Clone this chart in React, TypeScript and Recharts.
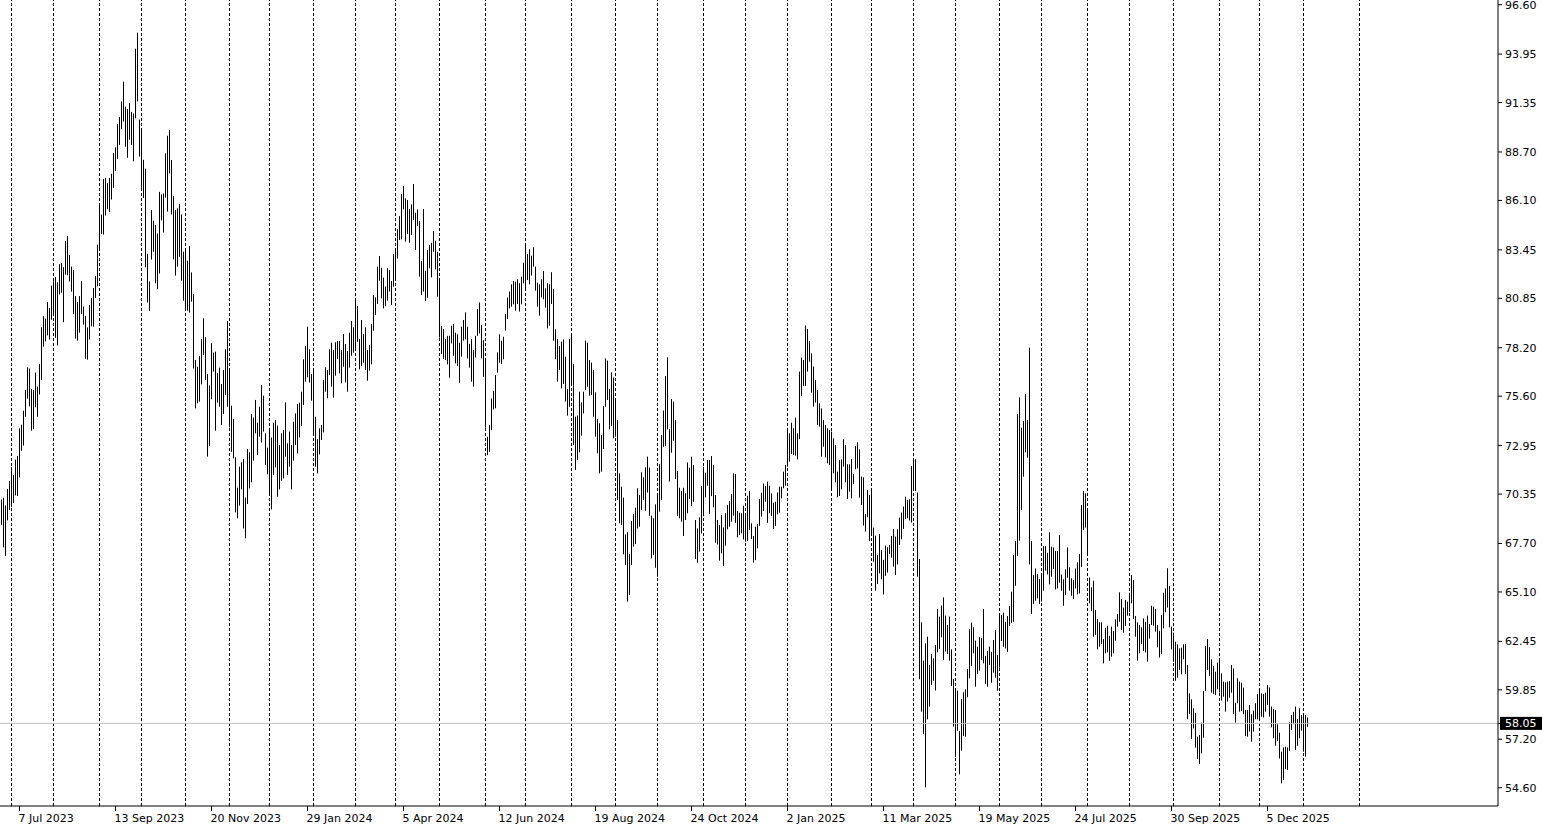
import React from 'react';
import { ComposedChart, Bar, XAxis, YAxis, ReferenceLine } from 'recharts';

// Daily bar highs (from ~26 Jun 2023 to ~2 Jan 2026)
const highs = [
  70.06, 70.15, 69.74, 70.62, 71.05, 71.79, 71.37, 72.20, 72.39, 73.88,
  74.07, 74.82, 75.93, 77.15, 77.09, 75.99, 75.93, 76.87, 76.12, 77.33,
  79.29, 79.89, 79.76, 80.65, 80.32, 81.53, 81.77, 81.99, 81.71, 82.68,
  82.74, 82.52, 83.93, 84.19, 83.17, 82.55, 82.37, 80.97, 80.65, 80.97,
  81.77, 80.41, 79.91, 79.29, 80.50, 80.87, 81.40, 82.05, 83.73, 85.96,
  85.35, 87.25, 87.31, 87.03, 87.31, 87.53, 88.65, 88.95, 90.20, 90.57,
  91.41, 92.47, 91.13, 91.00, 91.32, 90.85, 90.76, 94.24, 95.10, 90.44,
  89.97, 88.28, 87.81, 83.24, 81.75, 85.59, 85.01, 84.79, 84.32, 86.56,
  86.43, 86.47,
  88.63, 89.57, 89.88, 88.27, 86.34, 85.59, 85.68, 85.91, 85.35, 83.35,
  83.44, 82.87, 83.66, 82.24, 81.08, 77.54, 77.18, 77.76, 78.67, 79.78,
  78.76, 76.79, 76.17, 78.44, 77.94, 77.99, 76.83, 77.13, 76.25, 77.00,
  78.11, 79.63, 76.97, 75.09, 74.38, 72.32, 70.69, 71.82, 72.05, 72.23,
  70.16, 72.77, 72.59, 74.65, 74.45, 75.40, 74.18, 75.04, 76.20, 75.63,
  73.61, 72.84, 73.88, 73.38, 74.18, 74.32, 74.02, 72.98, 73.61, 73.79,
  75.27, 73.07, 73.70, 72.98, 74.23, 74.68, 75.18, 75.25, 75.84, 77.58,
  78.29, 79.33, 78.11, 76.79, 76.97, 74.50, 73.30, 73.88, 74.05, 76.47,
  77.15, 77.00, 78.11,
  78.47, 78.08, 78.49, 78.56, 78.56, 78.08, 78.94, 78.40, 78.02, 79.01,
  79.63, 79.29, 80.85, 80.43, 78.67, 79.69, 78.94, 79.29, 78.08, 78.35,
  79.47, 81.03, 80.90, 82.55, 83.12, 82.49, 81.96, 81.48, 82.46, 82.37,
  81.78, 83.23, 83.49, 84.55, 85.26, 86.44, 86.87, 86.21, 86.12, 85.64,
  85.89, 86.98, 85.44, 85.62, 85.00, 82.85, 85.64, 82.33, 83.44, 83.71,
  83.83, 84.46, 83.94, 83.35, 81.78, 79.36, 79.20, 78.67, 78.84, 78.84,
  79.38, 79.47, 79.01, 78.92, 78.47, 79.33, 79.69, 80.10, 79.33, 78.40,
  78.67, 78.08, 78.84, 80.27, 80.63, 79.42, 78.61, 77.59, 73.43, 74.05,
  75.48, 75.89,
  76.74, 77.95, 78.92, 78.58, 78.79, 80.01, 80.89, 81.21, 81.60, 81.78,
  81.74, 81.87, 81.66, 82.01, 82.76, 83.71, 83.23, 83.48, 83.14, 83.59,
  82.55, 81.69, 81.60, 81.87, 82.32, 81.39, 81.66, 81.60, 82.25, 81.35,
  79.19, 78.67, 78.29, 78.53, 78.65, 77.72, 75.99, 78.67, 78.88, 77.33,
  74.50, 74.56, 75.84, 75.27, 75.84, 78.58, 78.47, 77.54, 77.40, 77.01,
  75.81, 74.38, 74.15, 73.52, 75.08, 77.63, 77.51, 75.99, 76.88, 76.60,
  75.40, 74.32, 71.46, 70.75, 70.16, 68.19, 68.30, 67.14, 68.91, 69.28,
  69.62, 70.66, 70.30, 71.52, 71.25, 71.79, 72.36, 71.77, 69.19, 69.05,
  69.80, 70.39, 71.95,
  73.52, 74.83, 76.68, 77.69, 73.84, 75.45, 75.31, 74.32, 71.59, 70.69,
  70.51, 70.69, 70.39, 72.05, 71.77, 72.36, 71.91, 68.96, 68.51, 69.10,
  70.78, 71.82, 71.50, 72.18, 72.18, 72.39, 71.91, 70.30, 68.96, 68.69,
  69.23, 68.56, 69.32, 69.76, 69.98, 70.35, 71.46, 71.43, 69.44, 69.35,
  69.32, 69.73, 69.23, 70.26, 70.51, 68.78, 68.10, 68.60, 68.74, 70.09,
  70.42, 70.92, 70.78, 71.02, 70.80, 70.39, 69.89, 69.94, 70.44, 70.75,
  70.75, 71.55, 71.91, 73.73, 73.61, 74.18, 73.88, 74.45, 73.61, 76.92,
  77.67, 77.54, 79.39, 79.21, 78.56, 77.90, 77.19, 76.47, 75.93, 75.22,
  74.95, 74.32,
  74.06, 73.88, 73.79, 73.70, 73.34, 72.98, 71.55, 72.18, 72.21, 73.29,
  72.98, 71.95, 71.95, 72.23, 71.43, 72.93, 73.13, 72.75, 71.29, 71.25,
  69.28, 70.57, 70.30, 70.57, 68.55, 68.12, 67.08, 68.21, 67.35, 66.82,
  67.59, 67.50, 67.62, 68.10, 68.48, 68.07, 68.46, 69.09, 69.36, 69.68,
  70.21, 70.04, 70.07, 71.86, 72.15, 72.22, 70.43, 66.87, 63.47, 61.42,
  62.35, 62.70, 61.18, 61.77, 61.54, 62.26, 64.19, 63.78, 64.37, 64.81,
  63.83, 63.33, 63.78, 62.02, 60.43, 59.90, 59.81, 57.64, 59.36, 59.72,
  59.88, 60.97, 63.10, 63.46, 63.21, 62.49, 62.17, 62.67, 62.62, 64.19,
  61.67, 61.94, 62.17,
  61.89, 62.52, 63.06, 61.72, 63.86, 63.86, 63.99, 63.50, 63.81, 64.34,
  65.11, 67.08, 67.83, 74.64, 75.54, 73.91, 74.27, 75.72, 74.32, 78.20,
  67.83, 66.01, 66.36, 66.06, 65.79, 66.01, 67.56, 67.56, 67.20, 68.30,
  67.53, 67.49, 67.31, 67.29, 68.15, 66.04, 65.78, 66.31, 67.49, 66.42,
  65.83, 65.74, 66.36, 66.69, 67.13, 69.76, 70.51, 70.39, 69.58, 65.88,
  65.35, 65.70, 64.13, 63.65, 63.47, 63.47, 62.57, 63.18, 63.29, 62.75,
  63.24, 63.00, 63.63, 63.91, 65.08, 64.72, 64.26, 64.67, 64.58, 65.06,
  66.01, 65.74, 63.81, 63.47, 63.33, 63.20, 63.68, 63.50, 63.83, 63.38,
  64.36, 64.31,
  64.18, 63.33, 63.02, 63.86, 65.06, 65.29, 66.37, 65.42, 63.24, 62.92,
  62.43, 62.29, 62.08, 62.11, 62.29, 62.31, 61.18, 59.66, 59.34, 58.86,
  58.62, 57.34, 57.43, 58.09, 59.79, 62.20, 62.58, 62.13, 61.49, 61.13,
  60.82, 61.31, 61.50, 60.73, 60.29, 60.25, 60.29, 60.32, 61.18, 61.00,
  59.16, 60.47, 60.29, 60.23, 59.97, 58.77, 58.77, 59.04, 58.54, 58.73,
  59.13, 59.63, 59.93, 59.66, 59.63, 59.70, 60.11, 59.98, 58.95, 58.82,
  58.77, 58.00, 57.55, 56.53, 56.76, 56.80, 56.76, 58.11, 58.50, 58.67,
  58.95, 58.28, 58.86, 58.50, 58.59, 58.50, 58.37,
];

// Daily bar lows
const lows = [
  68.70, 67.49, 67.04, 68.94, 69.50, 69.65, 69.87, 70.28, 70.25, 71.24,
  72.67, 72.95, 74.50, 75.47, 75.06, 73.75, 73.83, 75.00, 74.50, 75.69,
  76.46, 78.26, 78.54, 78.86, 78.64, 79.70, 80.04, 78.73, 78.32, 81.06,
  81.15, 79.57, 82.12, 82.09, 81.75, 81.21, 80.00, 78.69, 78.58, 79.01,
  80.00, 79.44, 77.61, 77.56, 78.64, 79.35, 79.33, 80.87, 81.49, 83.48,
  84.29, 84.27, 85.29, 85.63, 85.48, 86.15, 86.78, 87.68, 88.33, 89.08,
  89.92, 90.33, 88.98, 88.39, 89.36, 89.08, 88.20, 90.51, 91.41, 88.46,
  86.78, 86.23, 82.52, 80.63, 80.18, 82.93, 83.35, 81.66, 81.34, 82.18,
  85.03, 84.38,
  86.25, 85.50, 87.55, 85.35, 82.94, 82.07, 82.55, 83.08, 81.80, 80.72,
  80.28, 80.19, 80.08, 80.67, 77.09, 74.95, 75.22, 75.31, 76.24, 77.81,
  76.47, 72.36, 72.93, 75.43, 76.92, 73.75, 75.25, 75.04, 74.05, 74.64,
  75.66, 75.04, 73.93, 72.62, 72.27, 69.37, 69.05, 69.73, 70.60, 68.51,
  67.98, 69.82, 70.66, 70.98, 72.14, 73.61, 72.45, 73.43, 73.12, 73.70,
  71.91, 71.41, 70.25, 69.53, 71.37, 71.78, 70.21, 70.60, 71.07, 71.19,
  72.36, 71.37, 71.82, 70.60, 72.14, 72.98, 72.53, 73.39, 74.00, 75.13,
  76.38, 76.61, 76.33, 75.36, 73.61, 71.82, 71.46, 72.48, 73.25, 73.66,
  75.84, 75.49, 76.74,
  76.11, 75.52, 76.70, 77.59, 76.83, 76.29, 77.18, 76.34, 75.84, 77.13,
  77.77, 77.93, 78.02, 78.52, 77.04, 77.22, 77.40, 77.00, 76.43, 76.97,
  77.31, 79.11, 79.95, 80.55, 81.80, 80.85, 80.31, 80.43, 80.72, 81.21,
  80.49, 81.48, 81.83, 82.99, 83.98, 84.01, 85.62, 83.89, 84.30, 83.83,
  84.24, 85.05, 83.44, 84.73, 82.01, 81.03, 81.21, 80.72, 80.88, 82.46,
  81.98, 83.35, 82.40, 80.94, 78.74, 77.86, 77.59, 77.54, 77.31, 76.59,
  78.43, 77.77, 77.36, 77.23, 76.32, 77.72, 78.58, 78.65, 77.63, 77.13,
  76.38, 76.11, 77.68, 78.84, 78.97, 77.63, 76.64, 73.91, 72.44, 72.62,
  73.78, 74.89,
  74.95, 76.86, 77.40, 77.33, 77.58, 79.12, 79.74, 80.31, 80.40, 80.53,
  80.19, 80.55, 80.14, 80.53, 81.66, 81.33, 81.83, 81.60, 82.07, 82.55,
  81.26, 80.40, 79.92, 80.90, 80.80, 80.35, 79.24, 79.38, 80.55, 78.58,
  77.58, 76.38, 77.01, 76.02, 76.26, 75.31, 74.56, 75.04, 76.17, 72.98,
  71.64, 72.18, 72.59, 73.48, 74.68, 75.93, 76.11, 75.63, 75.66, 74.50,
  73.43, 72.54, 71.46, 71.55, 72.77, 75.04, 75.40, 73.82, 74.00, 73.34,
  73.43, 70.03, 68.78, 68.69, 67.12, 66.55, 64.58, 64.94, 66.55, 67.53,
  67.67, 68.51, 68.60, 69.50, 70.03, 69.46, 70.43, 69.19, 66.90, 67.08,
  66.40, 65.92, 69.41,
  70.03, 72.89, 72.93, 73.82, 71.02, 72.57, 73.21, 71.16, 69.17, 69.05,
  68.87, 68.10, 68.96, 69.32, 70.09, 69.71, 69.94, 66.87, 66.67, 67.26,
  68.24, 69.17, 70.17, 70.80, 69.28, 70.24, 69.64, 67.74, 67.65, 66.78,
  67.17, 66.49, 67.58, 68.46, 68.60, 68.87, 69.19, 68.81, 68.03, 68.15,
  68.24, 67.92, 67.80, 67.83, 68.42, 67.94, 66.67, 66.81, 67.44, 68.65,
  69.14, 69.44, 69.94, 68.81, 69.32, 69.17, 68.48, 68.64, 69.26, 69.35,
  70.12, 70.66, 70.80, 71.82, 72.09, 72.50, 72.45, 72.41, 72.21, 73.30,
  75.61, 76.15, 76.15, 76.92, 77.45, 75.79, 75.04, 75.26, 74.06, 73.97,
  72.36, 72.89,
  72.32, 72.00, 71.91, 70.66, 71.46, 70.98, 70.18, 70.25, 70.60, 71.82,
  70.98, 70.09, 70.48, 70.12, 70.89, 71.68, 71.73, 70.16, 69.76, 68.66,
  68.34, 69.10, 67.83, 68.25, 66.72, 65.17, 65.53, 66.10, 65.78, 64.97,
  65.96, 66.14, 67.14, 66.94, 66.46, 66.01, 66.58, 67.62, 67.93, 68.48,
  69.02, 69.05, 68.93, 68.82, 70.54, 70.52, 65.92, 60.42, 58.68, 57.48,
  54.62, 58.27, 58.95, 60.11, 60.34, 59.81, 61.86, 62.04, 62.67, 61.45,
  61.90, 61.77, 61.42, 60.06, 57.88, 56.23, 57.66, 55.32, 56.59, 57.38,
  57.34, 59.45, 60.47, 61.13, 61.81, 60.02, 60.70, 60.88, 61.45, 61.27,
  60.17, 60.02, 61.18,
  60.23, 60.77, 60.50, 59.80, 61.04, 62.47, 62.16, 62.07, 61.89, 63.27,
  63.45, 63.50, 65.43, 67.04, 67.85, 69.50, 71.28, 72.59, 72.30, 66.58,
  63.91, 64.45, 64.63, 64.76, 64.45, 64.58, 65.17, 66.24, 66.04, 65.51,
  65.92, 66.33, 65.24, 65.29, 65.60, 65.17, 64.36, 64.94, 65.86, 65.17,
  64.90, 64.72, 65.29, 64.97, 65.02, 66.45, 68.42, 68.55, 67.08, 64.49,
  64.08, 62.70, 62.79, 62.02, 62.16, 62.31, 61.27, 61.81, 61.86, 61.41,
  61.63, 61.81, 62.49, 63.24, 63.50, 63.06, 62.92, 63.27, 63.83, 64.01,
  64.49, 63.65, 62.70, 61.41, 61.81, 62.31, 61.93, 61.86, 61.36, 62.61,
  63.33, 63.29,
  62.97, 62.13, 61.58, 61.77, 63.15, 64.01, 64.26, 63.20, 62.02, 61.36,
  60.34, 60.50, 60.91, 60.68, 61.49, 60.70, 58.27, 58.55, 57.21, 57.78,
  56.75, 56.14, 55.87, 56.44, 57.28, 59.79, 60.91, 60.59, 59.70, 59.63,
  59.57, 59.88, 59.70, 59.27, 59.48, 58.68, 59.22, 59.43, 59.70, 58.55,
  58.09, 59.13, 58.68, 58.71, 58.54, 57.37, 57.34, 57.61, 57.07, 57.61,
  58.27, 58.27, 58.23, 58.41, 58.37, 58.68, 59.04, 58.41, 57.84, 57.25,
  56.85, 57.10, 56.17, 54.83, 55.01, 55.60, 55.55, 56.58, 57.69, 58.01,
  56.62, 56.85, 57.25, 57.66, 56.53, 56.26, 57.87,
];

const xLabels = [
  '7 Jul 2023', '13 Sep 2023', '20 Nov 2023', '29 Jan 2024', '5 Apr 2024',
  '12 Jun 2024', '19 Aug 2024', '24 Oct 2024', '2 Jan 2025', '11 Mar 2025',
  '19 May 2025', '24 Jul 2025', '30 Sep 2025', '5 Dec 2025',
];
const xLabelIdx = [9, 57, 105, 153, 201, 249, 297, 345, 393, 441, 489, 537, 585, 633];

// bar index of the first trading day of each month (dashed separators)
const monthStartIdx = [
  5, 26, 49, 70, 92, 114, 134, 156, 177, 197, 219, 242, 262, 285, 307, 328,
  351, 372, 393, 415, 435, 456, 477, 499, 520, 543, 564, 586, 609, 629, 651, 679,
];

const yTickValues = [
  54.6, 57.2, 59.85, 62.45, 65.1, 67.7, 70.35, 72.95, 75.6, 78.2, 80.85,
  83.45, 86.1, 88.7, 91.35, 93.95, 96.6,
];
const lastPrice = 58.05;

const data = highs.map((h, i) => ({ i, range: [lows[i], h] }));

const FONT = 'DejaVu Sans, Verdana, sans-serif';

const BarLine = (props: any) => {
  const { x, y, width, height } = props;
  if (x == null || y == null) return null;
  const cx = Math.floor(x + width / 2);
  const top = Math.min(y, y + height);
  const h = Math.max(1, Math.abs(height));
  return <rect x={cx} y={top} width={1} height={h} fill="#000" />;
};

const XTick = (props: any) => {
  const { x, y, payload } = props;
  const k = xLabelIdx.indexOf(payload.value);
  if (k < 0) return null;
  return (
    <text x={x - 1} y={y} dy="0.71em" textAnchor="start" fontFamily={FONT} fontSize={11} fill="#000">
      {xLabels[k]}
    </text>
  );
};

const YTick = (props: any) => {
  const { x, y, payload } = props;
  const v = payload.value;
  if (v === lastPrice) {
    return (
      <g>
        <rect x={x - 5} y={y - 6.5} width={42} height={13} fill="#000" />
        <text x={x} y={y + 4} textAnchor="start" fontFamily={FONT} fontSize={11} fill="#fff">
          {v.toFixed(2)}
        </text>
      </g>
    );
  }
  return (
    <text x={x} y={y + 4} textAnchor="start" fontFamily={FONT} fontSize={11} fill="#000">
      {v.toFixed(2)}
    </text>
  );
};

export default function App() {
  return (
    <div style={{ position: 'absolute', left: 0, top: 0, width: 1542, height: 827, background: '#fff' }}>
      <ComposedChart width={1542} height={827} data={data} margin={{ top: 0, right: 0, bottom: 0, left: 0 }}>
        <XAxis
          dataKey="i"
          type="number"
          domain={[-0.75, 748.25]}
          allowDataOverflow
          ticks={xLabelIdx}
          interval={0}
          height={21}
          tickSize={5}
          tickMargin={3}
          axisLine={{ stroke: '#000' }}
          tickLine={{ stroke: '#000' }}
          tick={<XTick />}
        />
        <YAxis
          orientation="right"
          type="number"
          domain={[53.619, 96.852]}
          allowDataOverflow
          ticks={[...yTickValues, lastPrice]}
          interval={0}
          width={44}
          tickSize={4}
          tickMargin={3}
          axisLine={{ stroke: '#000' }}
          tickLine={{ stroke: '#000' }}
          tick={<YTick />}
        />
        {monthStartIdx.map((m) => (
          <ReferenceLine key={m} x={m} stroke="#000" strokeDasharray="3 2" />
        ))}
        <ReferenceLine y={lastPrice} stroke="#c0c0c0" />
        <Bar dataKey="range" barSize={1} isAnimationActive={false} shape={<BarLine />} />
      </ComposedChart>
    </div>
  );
}
